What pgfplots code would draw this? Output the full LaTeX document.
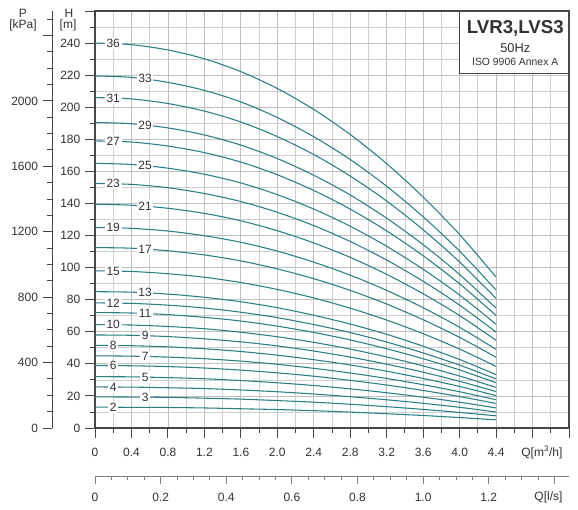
\documentclass[border=0pt]{standalone}
\usepackage{fontspec}
\setmainfont{Liberation Sans}
\usepackage{pgfplots}
\pgfplotsset{compat=1.18}
\definecolor{crv}{RGB}{40,128,134}
\definecolor{txt}{RGB}{50,50,50}
\definecolor{frm}{RGB}{70,70,70}
\tikzset{pc/.style={color=crv, solid, line width=0.8pt, smooth, mark=none}}
\begin{document}
\begin{tikzpicture}[font=\fontsize{9}{10}\selectfont]
% ---------------- P [kPa] axis ----------------
\begin{axis}[
  scale only axis, width=355.5pt, height=312.75pt, xshift=-32.25pt,
  hide x axis, axis y line*=left,
  xmin=0, xmax=1, ymin=0, ymax=2549.7,
  ytick={0,400,800,1200,1600,2000,2400},
  yticklabels={0,400,800,1200,1600,2000,},
  minor ytick={100,200,300,500,600,700,900,1000,1100,1300,1400,1500,1700,1800,1900,2100,2200,2300,2500},
  tick align=outside, major tick length=7pt, minor tick length=3.75pt,
  y axis line style={frm, line width=0.7pt},
  tick style={frm, line width=0.7pt},
  /pgf/number format/assume math mode=true,
  tick label style={text=txt},
]
\end{axis}
% ---------------- Q [l/s] axis ----------------
\begin{axis}[
  scale only axis, width=355.5pt, height=312.75pt, yshift=-36pt,
  hide y axis, axis x line*=bottom,
  xmin=0, xmax=1.444444, ymin=0, ymax=1,
  xtick={0,0.2,0.4,0.6,0.8,1.0,1.2,1.4},
  xticklabels={0,0.2,0.4,0.6,0.8,1.0,1.2,},
  minor xtick={0.05,0.1,0.15,0.25,0.3,0.35,0.45,0.5,0.55,0.65,0.7,0.75,0.85,0.9,0.95,1.05,1.1,1.15,1.25,1.3,1.35,1.4},
  tick align=outside, major tick length=6pt, minor tick length=3pt,
  x axis line style={frm!70, line width=0.7pt},
  tick style={frm!70, line width=0.7pt},
  /pgf/number format/assume math mode=true,
  tick label style={text=txt},
  xticklabel style={yshift=-3pt},
]
\end{axis}
% ---------------- main axis ----------------
\begin{axis}[
  scale only axis, width=355.5pt, height=312.75pt,
  xmin=0, xmax=5.2, ymin=0, ymax=260, clip=false,
  xtick={0,0.4,0.8,1.2,1.6,2.0,2.4,2.8,3.2,3.6,4.0,4.4,4.8,5.2},
  xticklabels={0,0.4,0.8,1.2,1.6,2.0,2.4,2.8,3.2,3.6,4.0,4.4,,},
  minor xtick={0.2,0.6,1.0,1.4,1.8,2.2,2.6,3.0,3.4,3.8,4.2,4.6,5.0},
  ytick={0,20,...,260},
  yticklabels={0,20,40,60,80,100,120,140,160,180,200,220,240,},
  minor ytick={10,30,...,250},
  grid=both,
  major grid style={gray!50, line width=0.55pt},
  minor grid style={gray!38, line width=0.55pt},
  tick pos=left, tick align=outside,
  major tick length=7.5pt, minor tick length=3.75pt,
  axis line style={frm, line width=0.8pt},
  tick style={frm, line width=0.7pt},
  /pgf/number format/assume math mode=true,
  tick label style={text=txt},
  xticklabel style={yshift=-4pt},
]
\addplot[pc] coordinates {(0,240) (0.4,239.0) (0.8,235.7) (1.2,230.2) (1.6,222.2) (2.0,211.7) (2.4,198.6) (2.8,183.0) (3.2,164.8) (3.6,144.0) (4.0,120.6) (4.4,94.1)};
\addplot[pc] coordinates {(0,219.5) (0.4,218.6) (0.8,215.5) (1.2,210.5) (1.6,203.3) (2.0,193.6) (2.4,181.6) (2.8,167.4) (3.2,150.7) (3.6,131.7) (4.0,110.3) (4.4,86.0)};
\addplot[pc] coordinates {(0,206) (0.4,205.2) (0.8,202.3) (1.2,197.6) (1.6,190.8) (2.0,181.7) (2.4,170.5) (2.8,157.1) (3.2,141.5) (3.6,123.6) (4.0,103.5) (4.4,80.8)};
\addplot[pc] coordinates {(0,190.5) (0.4,189.7) (0.8,187.1) (1.2,182.7) (1.6,176.4) (2.0,168.0) (2.4,157.6) (2.8,145.3) (3.2,130.8) (3.6,114.3) (4.0,95.7) (4.4,74.7)};
\addplot[pc] coordinates {(0,179) (0.4,178.3) (0.8,175.8) (1.2,171.7) (1.6,165.8) (2.0,157.9) (2.4,148.1) (2.8,136.5) (3.2,122.9) (3.6,107.4) (4.0,89.9) (4.4,70.2)};
\addplot[pc] coordinates {(0,165) (0.4,164.3) (0.8,162.0) (1.2,158.2) (1.6,152.8) (2.0,145.5) (2.4,136.5) (2.8,125.8) (3.2,113.3) (3.6,99.0) (4.0,82.9) (4.4,64.7)};
\addplot[pc] coordinates {(0,152.5) (0.4,151.9) (0.8,149.8) (1.2,146.2) (1.6,141.2) (2.0,134.5) (2.4,126.2) (2.8,116.3) (3.2,104.7) (3.6,91.5) (4.0,76.6) (4.4,59.8)};
\addplot[pc] coordinates {(0,139.5) (0.4,138.9) (0.8,137.0) (1.2,133.8) (1.6,129.2) (2.0,123.0) (2.4,115.4) (2.8,106.4) (3.2,95.8) (3.6,83.7) (4.0,70.1) (4.4,54.7)};
\addplot[pc] coordinates {(0,125) (0.4,124.5) (0.8,122.8) (1.2,119.9) (1.6,115.8) (2.0,110.3) (2.4,103.4) (2.8,95.3) (3.2,85.8) (3.6,75.0) (4.0,62.8) (4.4,49.0)};
\addplot[pc] coordinates {(0,112.5) (0.4,112.1) (0.8,110.5) (1.2,107.9) (1.6,104.2) (2.0,99.2) (2.4,93.1) (2.8,85.8) (3.2,77.3) (3.6,67.5) (4.0,56.5) (4.4,44.1)};
\addplot[pc] coordinates {(0,98) (0.4,97.6) (0.8,96.2) (1.2,94.0) (1.6,90.7) (2.0,86.4) (2.4,81.1) (2.8,74.7) (3.2,67.3) (3.6,58.8) (4.0,49.2) (4.4,38.4)};
\addplot[pc] coordinates {(0,85) (0.4,84.7) (0.8,83.5) (1.2,81.5) (1.6,78.7) (2.0,75.0) (2.4,70.3) (2.8,64.8) (3.2,58.4) (3.6,51.0) (4.0,42.7) (4.4,33.3)};
\addplot[pc] coordinates {(0,78) (0.4,77.7) (0.8,76.6) (1.2,74.8) (1.6,72.2) (2.0,68.8) (2.4,64.5) (2.8,59.5) (3.2,53.6) (3.6,46.8) (4.0,39.2) (4.4,30.6)};
\addplot[pc] coordinates {(0,72) (0.4,71.7) (0.8,70.7) (1.2,69.0) (1.6,66.7) (2.0,63.5) (2.4,59.6) (2.8,54.9) (3.2,49.4) (3.6,43.2) (4.0,36.2) (4.4,28.2)};
\addplot[pc] coordinates {(0,64.5) (0.4,64.2) (0.8,63.3) (1.2,61.9) (1.6,59.7) (2.0,56.9) (2.4,53.4) (2.8,49.2) (3.2,44.3) (3.6,38.7) (4.0,32.4) (4.4,25.3)};
\addplot[pc] coordinates {(0,58) (0.4,57.8) (0.8,57.0) (1.2,55.6) (1.6,53.7) (2.0,51.2) (2.4,48.0) (2.8,44.2) (3.2,39.8) (3.6,34.8) (4.0,29.1) (4.4,22.7)};
\addplot[pc] coordinates {(0,51.5) (0.4,51.3) (0.8,50.6) (1.2,49.4) (1.6,47.7) (2.0,45.4) (2.4,42.6) (2.8,39.3) (3.2,35.4) (3.6,30.9) (4.0,25.9) (4.4,20.2)};
\addplot[pc] coordinates {(0,45) (0.4,44.8) (0.8,44.2) (1.2,43.2) (1.6,41.7) (2.0,39.7) (2.4,37.2) (2.8,34.3) (3.2,30.9) (3.6,27.0) (4.0,22.6) (4.4,17.6)};
\addplot[pc] coordinates {(0,39) (0.4,38.8) (0.8,38.3) (1.2,37.4) (1.6,36.1) (2.0,34.4) (2.4,32.3) (2.8,29.7) (3.2,26.8) (3.6,23.4) (4.0,19.6) (4.4,15.3)};
\addplot[pc] coordinates {(0,32) (0.4,31.9) (0.8,31.4) (1.2,30.7) (1.6,29.6) (2.0,28.2) (2.4,26.5) (2.8,24.4) (3.2,22.0) (3.6,19.2) (4.0,16.1) (4.4,12.5)};
\addplot[pc] coordinates {(0,25.6) (0.4,25.5) (0.8,25.1) (1.2,24.6) (1.6,23.7) (2.0,22.6) (2.4,21.2) (2.8,19.5) (3.2,17.6) (3.6,15.4) (4.0,12.9) (4.4,10.0)};
\addplot[pc] coordinates {(0,19.4) (0.4,19.3) (0.8,19.1) (1.2,18.6) (1.6,18.0) (2.0,17.1) (2.4,16.1) (2.8,14.8) (3.2,13.3) (3.6,11.6) (4.0,9.7) (4.4,7.6)};
\addplot[pc] coordinates {(0,13) (0.4,12.9) (0.8,12.8) (1.2,12.5) (1.6,12.0) (2.0,11.5) (2.4,10.8) (2.8,9.9) (3.2,8.9) (3.6,7.8) (4.0,6.5) (4.4,5.1)};
% curve labels
\tikzset{cl/.style={fill=white, inner sep=1.2pt, text=txt}}
\node[cl] at (axis cs:0.2,239.8) {36};
\node[cl] at (axis cs:0.55,217.7) {33};
\node[cl] at (axis cs:0.2,205.8) {31};
\node[cl] at (axis cs:0.55,189) {29};
\node[cl] at (axis cs:0.2,178.8) {27};
\node[cl] at (axis cs:0.55,163.7) {25};
\node[cl] at (axis cs:0.2,152.3) {23};
\node[cl] at (axis cs:0.55,138.4) {21};
\node[cl] at (axis cs:0.2,124.9) {19};
\node[cl] at (axis cs:0.55,111.6) {17};
\node[cl] at (axis cs:0.2,97.9) {15};
\node[cl] at (axis cs:0.55,84.3) {13};
\node[cl] at (axis cs:0.2,77.9) {12};
\node[cl] at (axis cs:0.55,71.4) {11};
\node[cl] at (axis cs:0.2,64.4) {10};
\node[cl] at (axis cs:0.55,57.5) {9};
\node[cl] at (axis cs:0.2,51.4) {8};
\node[cl] at (axis cs:0.55,44.6) {7};
\node[cl] at (axis cs:0.2,39) {6};
\node[cl] at (axis cs:0.55,31.7) {5};
\node[cl] at (axis cs:0.2,25.6) {4};
\node[cl] at (axis cs:0.55,19.2) {3};
\node[cl] at (axis cs:0.2,13) {2};
% title box
\draw[frm, line width=0.8pt, fill=white] (axis cs:4.0,221) rectangle (axis cs:5.2,260);
\node[text=txt, font=\bfseries\fontsize{14}{16}\selectfont] at (axis cs:4.61,249.4) {LVR3,LVS3};
\node[text=txt, font=\fontsize{9.6}{11}\selectfont] at (axis cs:4.61,236.9) {50Hz};
\node[text=txt, font=\fontsize{7.8}{9}\selectfont] at (axis cs:4.61,228.2) {ISO 9906 Annex A};
% axis captions
\node[text=txt, anchor=east] at ([yshift=-18pt]axis cs:5.18,0) {Q[m\textsuperscript{3}/h]};
\node[text=txt, anchor=east] at ([yshift=-52pt]axis cs:5.18,0) {Q[l/s]};
\node[text=txt] at ([xshift=-19.5pt,yshift=-1.5pt]rel axis cs:0,1) {H};
\node[text=txt] at ([xshift=-20.25pt,yshift=-10.5pt]rel axis cs:0,1) {[m]};
\node[text=txt] at ([xshift=-54pt,yshift=-1.5pt]rel axis cs:0,1) {P};
\node[text=txt] at ([xshift=-54pt,yshift=-10.5pt]rel axis cs:0,1) {[kPa]};
\coordinate (SW) at (rel axis cs:0,0);
\coordinate (NE) at (rel axis cs:1,1);
\end{axis}
\pgfresetboundingbox
\path[use as bounding box] ([shift={(-71.25pt,-60.75pt)}]SW) rectangle ([shift={(6.75pt,8.25pt)}]NE);
\end{tikzpicture}
\end{document}
